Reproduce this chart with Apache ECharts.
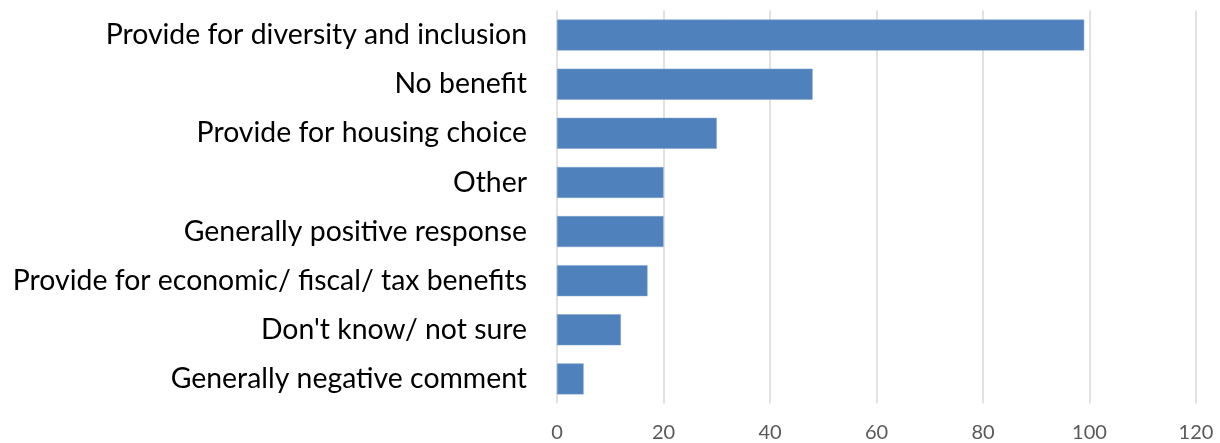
<!DOCTYPE html>
<html>
<head>
<meta charset="utf-8">
<script src="https://cdn.jsdelivr.net/npm/echarts@6/dist/echarts.min.js"></script>
<style>
html,body{margin:0;padding:0;background:#fff;}
#chart{width:1220px;height:443px;}
</style>
</head>
<body>
<div id="chart"></div>
<script>
const categories = [
  "Provide for diversity and inclusion",
  "No benefit",
  "Provide for housing choice",
  "Other",
  "Generally positive response",
  "Provide for economic/ fiscal/ tax benefits",
  "Don't know/ not sure",
  "Generally negative comment"
];
const values = [99, 48, 30, 20, 20, 17, 12, 5];
const xTicks = [0, 20, 40, 60, 80, 100, 120];

const chart = echarts.init(document.getElementById('chart'), null, {renderer: 'canvas'});
chart.setOption({
  animation: false,
  backgroundColor: '#ffffff',
  grid: {left: 557, right: 24, top: 10.5, bottom: 39.5, containLabel: false},
  xAxis: {
    type: 'value',
    min: xTicks[0],
    max: xTicks[xTicks.length - 1],
    interval: xTicks[1] - xTicks[0],
    axisLine: {show: false},
    axisTick: {show: false},
    splitLine: {show: true, lineStyle: {color: '#d9d9d9', width: 1.5}},
    axisLabel: {color: '#595959', fontSize: 20, fontFamily: 'Lato, "Open Sans", sans-serif', margin: 19}
  },
  yAxis: {
    type: 'category',
    data: categories,
    inverse: true,
    axisLine: {show: false},
    axisTick: {show: false},
    splitLine: {show: false},
    axisLabel: {color: '#000000', fontSize: 28.4, fontFamily: 'Lato, "Open Sans", sans-serif', margin: 30, padding: [2, 0, 0, 0]}
  },
  series: [{
    type: 'bar',
    data: values,
    barCategoryGap: '37%',
    itemStyle: {color: '#4F81BD', borderColor: '#7fa3cf', borderWidth: 0.5}
  }]
});
</script>
</body>
</html>
